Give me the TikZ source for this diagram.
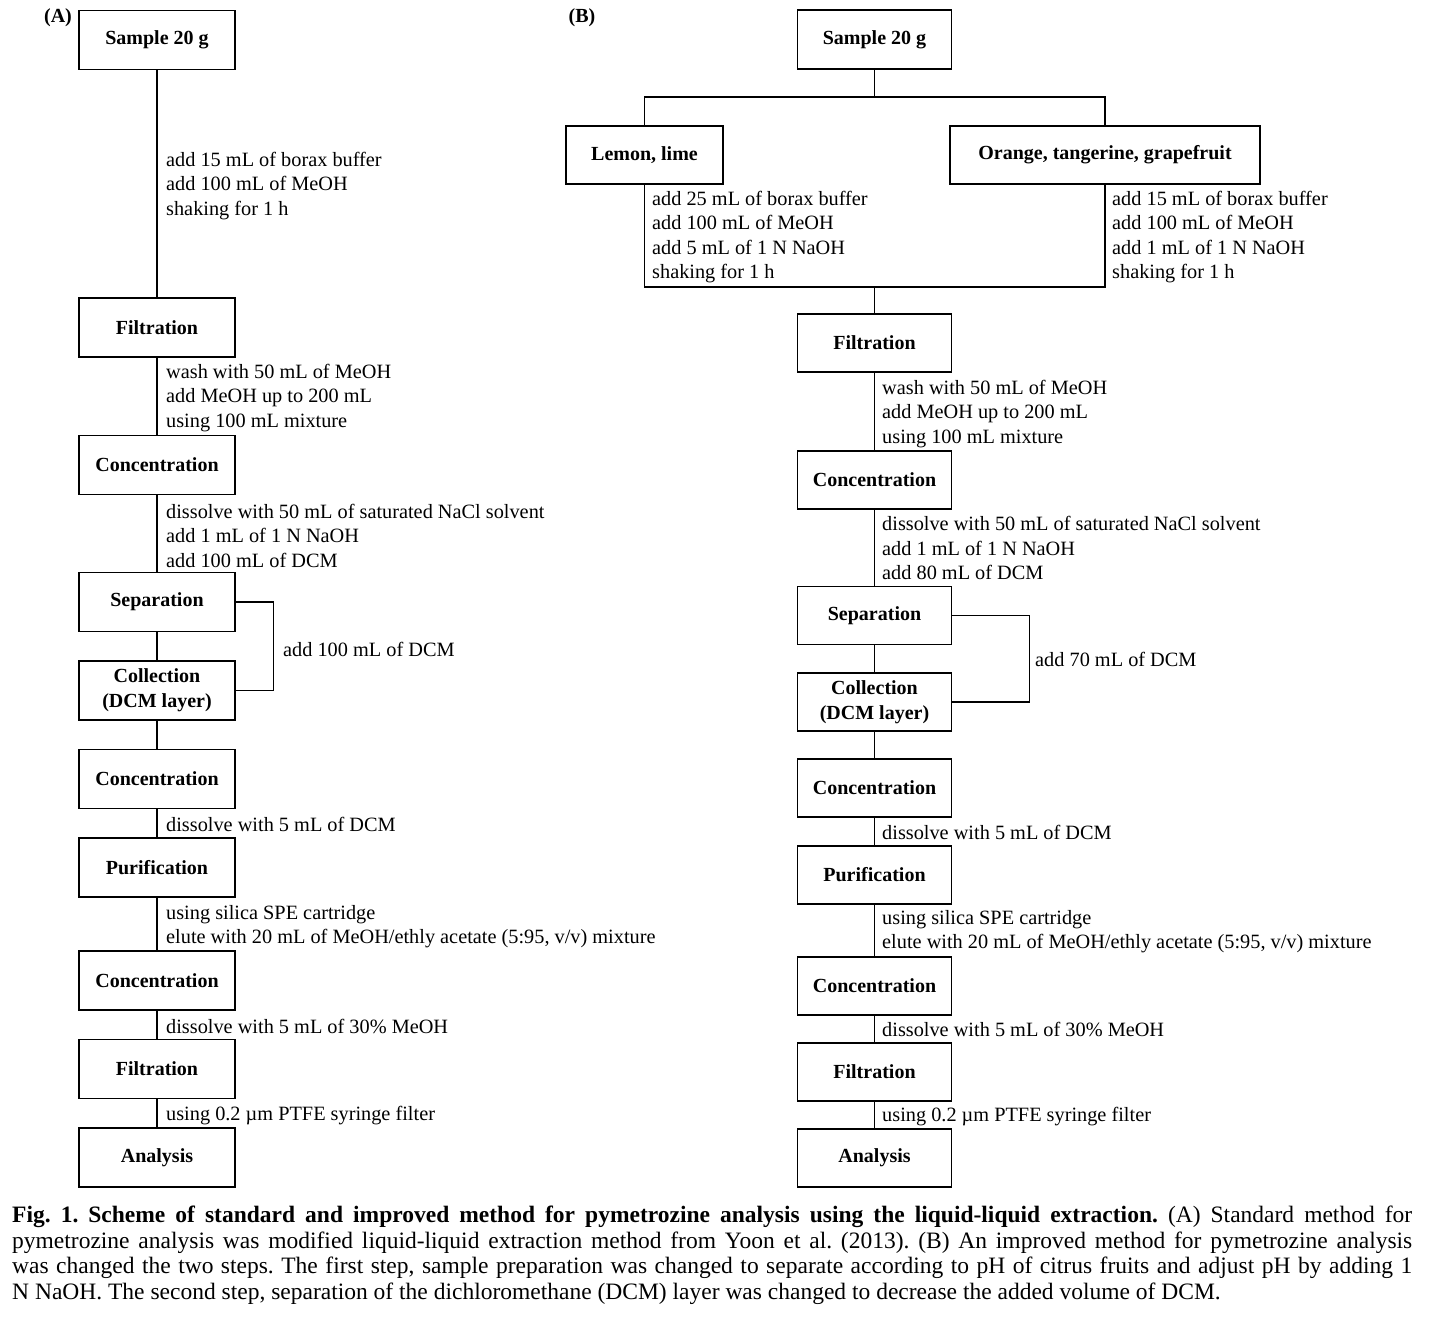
\documentclass[tikz,border=0pt]{standalone}
\usepackage{fontspec}
\setmainfont{Liberation Serif}
\begin{document}
\frenchspacing
\begin{tikzpicture}[x=1pt,y=-1pt,
  box/.style={draw, line width=1.2pt, inner sep=0pt, minimum height=59pt, minimum width=156pt, font=\fontsize{20}{25}\selectfont\bfseries, align=center},
  boxB/.style={box, minimum width=154pt},
  lbl/.style={anchor=west, inner sep=0pt, align=left, font=\fontsize{20.3}{24.5}\selectfont},
  conn/.style={line width=1.2pt},
  tag/.style={inner sep=0pt, font=\fontsize{20}{24}\selectfont\bfseries}]
\useasboundingbox (0,0) rectangle (1431,1322);
\fill[white] (0,0) rectangle (1431,1322);

% ---------- Panel A ----------
\node[tag] (tA) at (58,18) {(A)};
\node[box] (a1) at (157,40) {Sample 20 g};
\node[box] (a2) at (157,327.5) {Filtration};
\node[box] (a3) at (157,465) {Concentration};
\node[box] (a4) at (157,602) {Separation};
\node[box] (a5) at (157,690.5) {Collection\\(DCM layer)};
\node[box] (a6) at (157,779) {Concentration};
\node[box] (a7) at (157,867.5) {Purification};
\node[box] (a8) at (157,980.5) {Concentration};
\node[box] (a9) at (157,1069) {Filtration};
\node[box] (a10) at (157,1157.5) {Analysis};

\draw[conn] (a1) -- (a2);
\draw[conn] (a2) -- (a3);
\draw[conn] (a3) -- (a4);
\draw[conn] (a4) -- (a5);
\draw[conn] (a5) -- (a6);
\draw[conn] (a6) -- (a7);
\draw[conn] (a7) -- (a8);
\draw[conn] (a8) -- (a9);
\draw[conn] (a9) -- (a10);
\draw[conn] (a4.east) -- ++(38,0) |- (a5.east);

\node[lbl] (la1) at (166,186) {add 15 mL of borax buffer\\add 100 mL of MeOH\\shaking for 1 h};
\node[lbl] (la2) at (166,398) {wash with 50 mL of MeOH\\add MeOH up to 200 mL\\using 100 mL mixture};
\node[lbl] (la3) at (166,535.5) {dissolve with 50 mL of saturated NaCl solvent\\add 1 mL of 1 N NaOH\\add 100 mL of DCM};
\node[lbl] (la4) at (283,649) {add 100 mL of DCM};
\node[lbl] (la5) at (166,824) {dissolve with 5 mL of DCM};
\node[lbl] (la6) at (166,926.5) {using silica SPE cartridge\\elute with 20 mL of MeOH/ethly acetate (5:95, v/v) mixture};
\node[lbl] (la7) at (166,1026.5) {dissolve with 5 mL of 30\% MeOH};
\node[lbl] (la8) at (166,1115.5) {using 0.2 µm PTFE syringe filter};

% ---------- Panel B ----------
\node[tag] (tB) at (582,18) {(B)};
\node[boxB] (b1) at (874.5,39.5) {Sample 20 g};
\node[box, minimum width=157pt, minimum height=58pt] (bl) at (644.5,155) {Lemon, lime};
\node[box, minimum width=310pt, minimum height=58pt] (bo) at (1105,155) {Orange, tangerine, grapefruit};
\node[boxB, minimum height=58pt] (b2) at (874.5,343) {Filtration};
\node[boxB, minimum height=58pt] (b3) at (874.5,480) {Concentration};
\node[boxB, minimum height=58pt] (b4) at (874.5,615.5) {Separation};
\node[boxB, minimum height=58pt] (b5) at (874.5,702) {Collection\\(DCM layer)};
\node[boxB, minimum height=58pt] (b6) at (874.5,788) {Concentration};
\node[boxB, minimum height=58pt] (b7) at (874.5,875) {Purification};
\node[boxB, minimum height=58pt] (b8) at (874.5,986) {Concentration};
\node[boxB, minimum height=58pt] (b9) at (874.5,1072) {Filtration};
\node[boxB, minimum height=58pt] (b10) at (874.5,1158) {Analysis};

\coordinate (split) at (874.5,97);
\coordinate (join) at (874.5,287);
\draw[conn] (b1.south) -- (split);
\draw[conn] (bl.north) |- (split) -| (bo.north);
\draw[conn] (bl.south) |- (join) -| (bo.south);
\draw[conn] (join) -- (b2.north);
\draw[conn] (b2) -- (b3);
\draw[conn] (b3) -- (b4);
\draw[conn] (b4) -- (b5);
\draw[conn] (b5) -- (b6);
\draw[conn] (b6) -- (b7);
\draw[conn] (b7) -- (b8);
\draw[conn] (b8) -- (b9);
\draw[conn] (b9) -- (b10);
\draw[conn] (b4.east) -- ++(77,0) |- (b5.east);

\node[lbl] (lbL) at (652,237) {add 25 mL of borax buffer\\add 100 mL of MeOH\\add 5 mL of 1 N NaOH\\shaking for 1 h};
\node[lbl] (lbR) at (1112,237) {add 15 mL of borax buffer\\add 100 mL of MeOH\\add 1 mL of 1 N NaOH\\shaking for 1 h};
\node[lbl] (lb2) at (882,414) {wash with 50 mL of MeOH\\add MeOH up to 200 mL\\using 100 mL mixture};
\node[lbl] (lb3) at (882,548) {dissolve with 50 mL of saturated NaCl solvent\\add 1 mL of 1 N NaOH\\add 80 mL of DCM};
\node[lbl] (lb4) at (1035,659) {add 70 mL of DCM};
\node[lbl] (lb5) at (882,832) {dissolve with 5 mL of DCM};
\node[lbl] (lb6) at (882,931.5) {using silica SPE cartridge\\elute with 20 mL of MeOH/ethly acetate (5:95, v/v) mixture};
\node[lbl] (lb7) at (882,1029.5) {dissolve with 5 mL of 30\% MeOH};
\node[lbl] (lb8) at (882,1116.5) {using 0.2 µm PTFE syringe filter};

% ---------- Caption ----------
\node[anchor=north west, inner sep=0pt, text width=1400pt, align=justify, font=\fontsize{23.5}{25.5}\selectfont] (cap) at (12,1206)
{\parfillskip=0pt plus 15pt\textbf{Fig. 1. Scheme of standard and improved method for pymetrozine analysis using the liquid-liquid extraction.} (A) Standard method for\linebreak
pymetrozine analysis was modified liquid-liquid extraction method from Yoon et al. (2013). (B) An improved method for pymetrozine analysis\linebreak
was changed the two steps. The first step, sample preparation was changed to separate according to pH of citrus fruits and adjust pH by adding 1\linebreak
N NaOH. The second step, separation of the dichloromethane (DCM) layer was changed to decrease the added volume of DCM.};
\end{tikzpicture}
\end{document}
